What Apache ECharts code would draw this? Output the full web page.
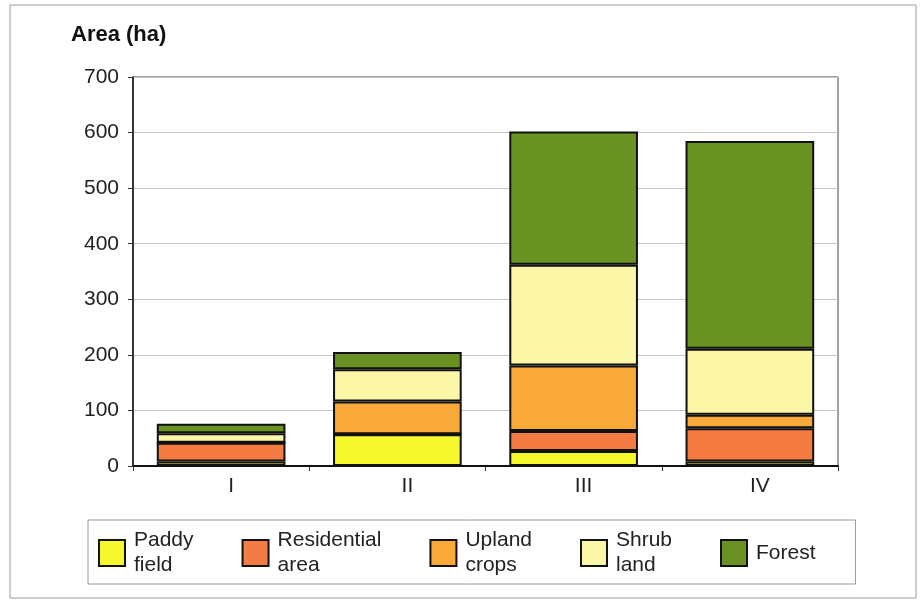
<!DOCTYPE html>
<html>
<head>
<meta charset="utf-8">
<script src="https://cdn.jsdelivr.net/npm/echarts@6/dist/echarts.min.js"></script>
<style>
  html, body { margin: 0; padding: 0; background: #fff; }
  #chart { width: 920px; height: 607px; }
</style>
</head>
<body>
<div id="chart"></div>
<script>
// Land use area by zone (ha), stacked from bottom to top
const zones = ['I', 'II', 'III', 'IV'];
const paddyField = [8, 57, 27, 8];
const residentialArea = [34, 0, 36, 60];
const uplandCrops = [0, 59, 118, 24];
const shrubLand = [17, 58, 181, 119];
const forest = [17, 31, 240, 374];
const yTicks = { min: 0, max: 700, interval: 100 };

const layers = [
  { name: 'Paddy field', label: 'Paddy\nfield', data: paddyField, color: '#F7F72E' },
  { name: 'Residential area', label: 'Residential\narea', data: residentialArea, color: '#F47C42' },
  { name: 'Upland crops', label: 'Upland\ncrops', data: uplandCrops, color: '#F8A93A' },
  { name: 'Shrub land', label: 'Shrub\nland', data: shrubLand, color: '#FBF7A6' },
  { name: 'Forest', label: 'Forest', data: forest, color: '#6A9222' }
];
const legendText = {};
layers.forEach(l => { legendText[l.name] = l.label; });

const font = 'Liberation Sans, Arial, sans-serif';
const chart = echarts.init(document.getElementById('chart'), null, { renderer: 'canvas' });
chart.setOption({
  backgroundColor: '#fff',
  animation: false,
  textStyle: { fontFamily: font },
  graphic: [
    {
      type: 'rect',
      shape: { x: 10, y: 5, width: 906, height: 593 },
      style: { fill: 'none', stroke: '#9a9a9a', lineWidth: 1 },
      z: -1
    },
    {
      type: 'rect',
      shape: { x: 133, y: 77, width: 705, height: 389 },
      style: { fill: 'none', stroke: '#444', lineWidth: 1 },
      z: 0
    }
  ],
  title: {
    text: 'Area (ha)',
    left: 66,
    top: 19,
    textStyle: { fontSize: 22, fontWeight: 'bold', color: '#111', fontFamily: font }
  },
  grid: { left: 133, right: 82, top: 77, bottom: 141 },
  legend: {
    left: 88,
    top: 520,
    width: 800,
    padding: [8, 40, 6, 10],
    itemGap: 48,
    itemWidth: 26,
    itemHeight: 26,
    icon: 'rect',
    borderColor: '#9a9a9a',
    borderWidth: 1,
    formatter: name => legendText[name],
    textStyle: { fontSize: 21, color: '#222', lineHeight: 25, padding: [0, 0, 0, 4] },
    itemStyle: { borderColor: '#111', borderWidth: 2 },
    data: layers.map(l => l.name)
  },
  xAxis: {
    type: 'category',
    data: zones,
    axisLine: { lineStyle: { color: '#111', width: 2 } },
    axisTick: { show: true, length: 5, lineStyle: { color: '#333' } },
    axisLabel: { fontSize: 21, color: '#222', margin: 10, padding: [0, 0, 0, 20] },
    splitLine: { show: false }
  },
  yAxis: {
    type: 'value',
    min: yTicks.min,
    max: yTicks.max,
    interval: yTicks.interval,
    axisLine: { show: true, lineStyle: { color: '#111', width: 1.5 } },
    axisTick: { show: true, length: 5, lineStyle: { color: '#333' } },
    axisLabel: { fontSize: 21, color: '#222', margin: 14 },
    splitLine: { lineStyle: { color: '#c4c4c4', width: 1 } }
  },
  series: layers.map(l => ({
    name: l.name,
    type: 'bar',
    stack: 'area',
    barWidth: '73%',
    data: l.data,
    itemStyle: { color: l.color, borderColor: '#111', borderWidth: 2 }
  }))
});
</script>
</body>
</html>
